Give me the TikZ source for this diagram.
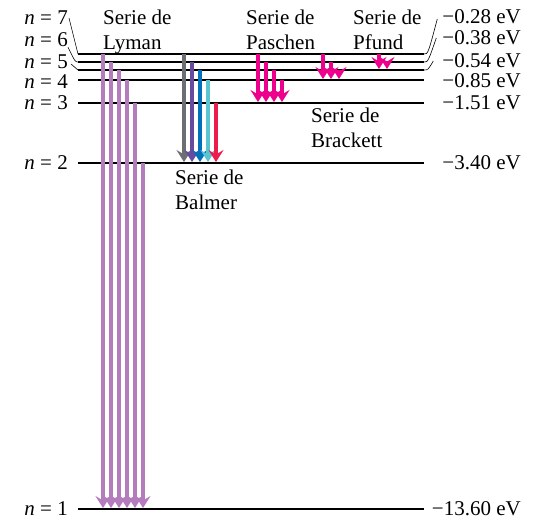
\documentclass[tikz,border=0pt]{standalone}
\usepackage{fontspec}
\setmainfont{Liberation Serif}
\usetikzlibrary{arrows.meta}
\definecolor{lymanpurple}{RGB}{181,124,189}
\definecolor{balmergray}{RGB}{109,110,113}
\definecolor{balmerviolet}{RGB}{102,75,160}
\definecolor{balmerblue}{RGB}{0,114,188}
\definecolor{balmercyan}{RGB}{90,196,208}
\definecolor{balmerred}{RGB}{237,28,78}
\definecolor{irmagenta}{RGB}{236,0,140}
\begin{document}
\begin{tikzpicture}[x=1pt, y=-1pt,
        level/.style={line width=1.4pt},
        lbl/.style={inner sep=0pt, font=\fontsize{21}{25}\selectfont},
        series/.style={lbl, align=left, anchor=north west},
        trans/.style={line width=4.5pt, -{Stealth[length=12pt, width=15pt, inset=4.5pt]}, shorten >=1pt}]
    \useasboundingbox (0,0) rectangle (537,520);
    % energy levels
    \foreach \n/\y in {1/509, 2/163, 3/103, 4/80, 5/70, 6/62, 7/54} {
        \coordinate (L\n) at (78,\y);
        \coordinate (R\n) at (424,\y);
        \draw[level] (L\n) -- (R\n);
    }
    \node[lbl, anchor=east] (n7) at (68,18) {\textit{n} = 7};
    \node[lbl, anchor=east] (n6) at (68,40) {\textit{n} = 6};
    \node[lbl, anchor=east] (n5) at (68,62) {\textit{n} = 5};
    \node[lbl, anchor=east] (n4) at (68,82) {\textit{n} = 4};
    \node[lbl, anchor=east] (n3) at (68,103) {\textit{n} = 3};
    \node[lbl, anchor=east] (n2) at (68,163) {\textit{n} = 2};
    \node[lbl, anchor=east] (n1) at (68,509) {\textit{n} = 1};
    \node[lbl, anchor=east] (e7) at (521,17) {−0.28 eV};
    \node[lbl, anchor=east] (e6) at (521,38) {−0.38 eV};
    \node[lbl, anchor=east] (e5) at (521,61) {−0.54 eV};
    \node[lbl, anchor=east] (e4) at (521,81) {−0.85 eV};
    \node[lbl, anchor=east] (e3) at (521,103) {−1.51 eV};
    \node[lbl, anchor=east] (e2) at (521,163) {−3.40 eV};
    \node[lbl, anchor=east] (e1) at (521,509) {−13.60 eV};
    % leaders
    \draw[line width=0.6pt] ([xshift=1pt]n7.east) -- (L7);
    \draw[line width=0.6pt] (n6.south east) .. controls +(7,14) and +(-3,0) .. (L6);
    \draw[line width=0.6pt] ([xshift=3pt,yshift=-2pt]n5.east) -- (L5);
    \draw[line width=0.6pt] (R7) .. controls +(4,0) .. ([xshift=-5pt,yshift=-2pt]e7.west);
    \draw[line width=0.6pt] (R6) .. controls +(4,0) .. ([xshift=-6pt]e6.west);
    \draw[line width=0.6pt] (R5) .. controls +(4,0) .. ([xshift=-9pt]e5.west);
    % series names
    \node[series] (lyman) at (103,10) {Serie de\\Lyman};
    \node[series] (balmer) at (175,170) {Serie de\\Balmer};
    \node[series] (paschen) at (246,10) {Serie de\\Paschen};
    \node[series] (brackett) at (311,108) {Serie de\\Brackett};
    \node[series] (pfund) at (353,10) {Serie de\\Pfund};
    % transitions
    \foreach \x/\a/\b/\c in {103/7/1/lymanpurple, 111/6/1/lymanpurple, 119/5/1/lymanpurple,
            127/4/1/lymanpurple, 135/3/1/lymanpurple, 143/2/1/lymanpurple,
            184/7/2/balmergray, 192/6/2/balmerviolet, 200/5/2/balmerblue,
            208/4/2/balmercyan, 216/3/2/balmerred,
            258/7/3/irmagenta, 266/6/3/irmagenta, 274/5/3/irmagenta, 282/4/3/irmagenta,
            323/7/4/irmagenta, 331/6/4/irmagenta, 339/5/4/irmagenta,
            379/7/5/irmagenta, 387/6/5/irmagenta}
        \draw[trans, \c] (\x,0 |- L\a) -- (\x,0 |- L\b);
\end{tikzpicture}
\end{document}
